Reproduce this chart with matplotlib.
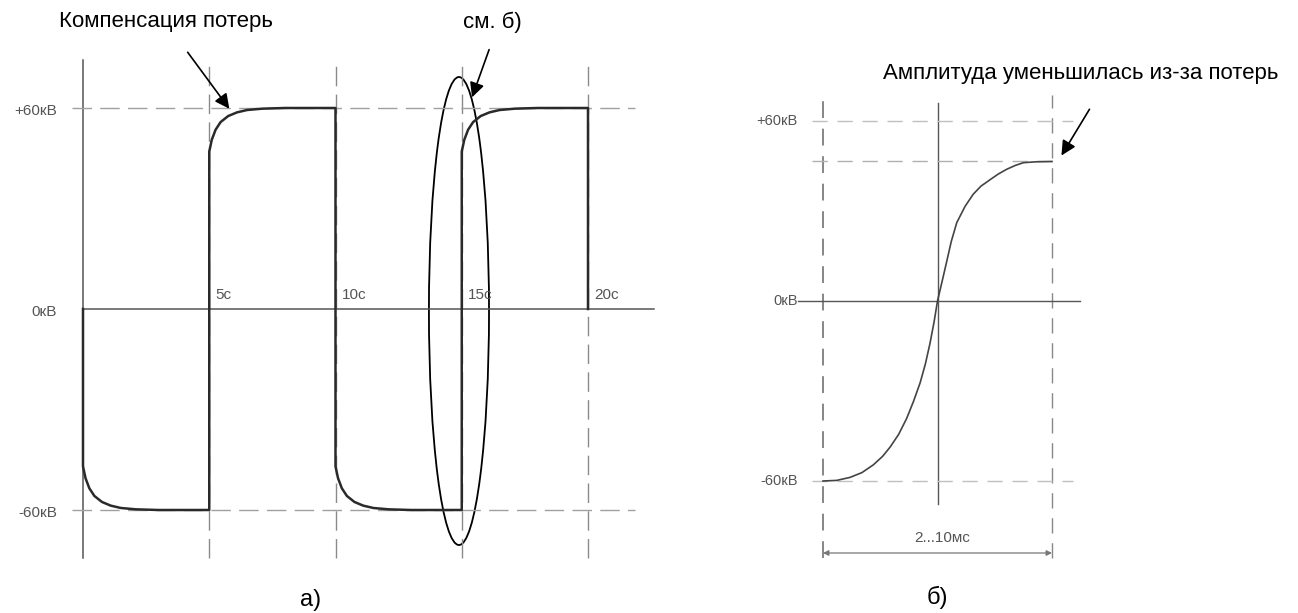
import numpy as np
import matplotlib.pyplot as plt
from matplotlib.patches import Ellipse

plt.rcParams['font.family'] = ['Liberation Sans', 'DejaVu Sans']

# --- a) switching waveform, kV vs s ---
level = 60
half_period = 5
half_signs = [-1, 1, -1, 1]          # polarity of each half-cycle
# settling shape after every switch (time since switch, |V|)
settle_t = [0.0, 0.1, 0.25, 0.45, 0.75, 1.1, 1.5, 2.1, 3.0, 5.0]
settle_v = [47.0, 50.5, 53.5, 55.8, 57.6, 58.7, 59.4, 59.8, 60.0, 60.0]
t_marks = [5, 10, 15, 20]
t_labels = ['5с', '10с', '15с', '20с']
v_labels_a = ['+60кВ', '0кВ', '-60кВ']

# --- b) zoomed transition, kV vs fraction of 2...10 ms ---
tr_tau = [0.0, 0.06, 0.118, 0.17, 0.22, 0.26, 0.293, 0.33, 0.365, 0.395,
          0.424, 0.447, 0.467, 0.485, 0.50, 0.52, 0.54, 0.56, 0.584, 0.62,
          0.656, 0.69, 0.729, 0.765, 0.802, 0.84, 0.875, 0.93, 1.0]
tr_v = [-60, -59.8, -58.8, -57.2, -54.6, -51.8, -48.7, -44.5, -39.2, -33.5,
        -27.3, -21.0, -14.2, -7.0, 0, 6.5, 13.1, 19.8, 26.1, 31.5,
        35.6, 38.3, 40.4, 42.3, 43.9, 45.2, 46.1, 46.4, 46.5]
reduced_amp = 46.5

# build waveform a) from the half-cycle shape
wave_t = [0.0]
wave_v = [0.0]
for k, s in enumerate(half_signs):
    t0 = k * half_period
    wave_t += [t0 + x for x in settle_t]
    wave_v += [s * x for x in settle_v]
wave_t.append(len(half_signs) * half_period)
wave_v.append(0.0)

fig = plt.figure(figsize=(12.98, 6.13), dpi=100)
W, H = 1298, 613

# left axes: pixel 0..700, origin at px (83, 309)
axa = fig.add_axes([0, 0, 700 / W, 1])
sx, sy = 25.25, 3.35
axa.set_xlim(-83 / sx, (700 - 83) / sx)
axa.set_ylim((309 - H) / sy, 309 / sy)
axa.axis('off')

grid_c = '#8a8a8a'
dash = (0, (14, 6))
vtop, vbot = 74.3, -74.3
axa.plot([0, 0], [vbot, vtop], color='#555555', lw=1.1)
for t in t_marks:
    axa.plot([t, t], [vbot, vtop], color=grid_c, lw=1.0, linestyle=dash)
for v in (level, -level):
    axa.plot([-0.44, 21.86], [v, v], color='#a0a0a0', lw=1.0, linestyle=dash)
axa.plot([0, 22.6], [0, 0], color='#555555', lw=1.1)
axa.plot(wave_t, wave_v, color='#2a2a2a', lw=1.8)

for t, lab in zip(t_marks, t_labels):
    axa.text(t + 0.25, 4.2, lab, fontsize=11, color='#555555', va='center', ha='left')
for v, lab in zip([level, 0, -level], v_labels_a):
    axa.text(-1.03, v - (1.0 if v == 0 else 0.8), lab, fontsize=11, color='#555555',
             va='center', ha='right')

axa.add_patch(Ellipse((14.89, -0.6), 2.38, 139.7, fill=False, ec='black', lw=1.3))
axa.text(3.29, 85.7, 'Компенсация потерь', fontsize=16, ha='center', va='center')
axa.text(16.2, 85.7, 'см. б)', fontsize=16, ha='center', va='center')
axa.annotate('', xy=(5.86, 59.1), xytext=(4.08, 77.3),
             arrowprops=dict(arrowstyle='-|>', color='black', lw=1.2, mutation_scale=22))
axa.annotate('', xy=(15.37, 62.4), xytext=(16.12, 78.2),
             arrowprops=dict(arrowstyle='-|>', color='black', lw=1.2, mutation_scale=22))
axa.text(9.0, (309 - 600) / sy, 'а)', fontsize=17, ha='center', va='center')

# right axes: pixel 700..1298, tau 0 at px 823, tau 1 at px 1052, V 0 at px 301
axb = fig.add_axes([700 / W, 0, (W - 700) / W, 1])
bx, by = 229.0, 3.0
axb.set_xlim((700 - 823) / bx, (W - 823) / bx)
axb.set_ylim((301 - H) / by, 301 / by)
axb.axis('off')

dash_b = (0, (11, 7))
axb.plot([0.0, 0.0], [-85.7, 68.7], color='#666666', lw=1.1, linestyle=dash_b)
axb.plot([1.0, 1.0], [-85.7, 68.7], color='#888888', lw=1.0, linestyle=dash_b)
axb.plot([0.5, 0.5], [-67.7, 66.0], color='#555555', lw=1.0)
axb.plot([-0.109, 1.122], [0, 0], color='#555555', lw=1.0)
for v in (level, -level):
    axb.plot([-0.048, 1.09], [v, v], color='#c0c0c0', lw=1.0, linestyle=dash_b)
axb.plot([-0.048, 1.0], [reduced_amp, reduced_amp], color='#b0b0b0', lw=1.0,
         linestyle=dash_b)
axb.plot(tr_tau, tr_v, color='#444444', lw=1.2)

for v, lab in zip([level, 0, -level], v_labels_a):
    axb.text(-0.11, v, lab, fontsize=10.5, color='#555555', va='center', ha='right')

axb.annotate('', xy=(0, -84), xytext=(1, -84),
             arrowprops=dict(arrowstyle='<|-|>', color='#777777', lw=0.9,
                             mutation_scale=8, shrinkA=0, shrinkB=0))
axb.text(0.52, -79, '2...10мс', fontsize=11, color='#555555', ha='center', va='center')

axb.text(1.127, 76, 'Амплитуда уменьшилась из-за потерь', fontsize=16,
         ha='center', va='center')
axb.annotate('', xy=(1.035, 47.7), xytext=(1.17, 64.7),
             arrowprops=dict(arrowstyle='-|>', color='black', lw=1.2, mutation_scale=22))
axb.text(0.5, (301 - 597) / by, 'б)', fontsize=17, ha='center', va='center')

fig.savefig('out.png', dpi=100)
